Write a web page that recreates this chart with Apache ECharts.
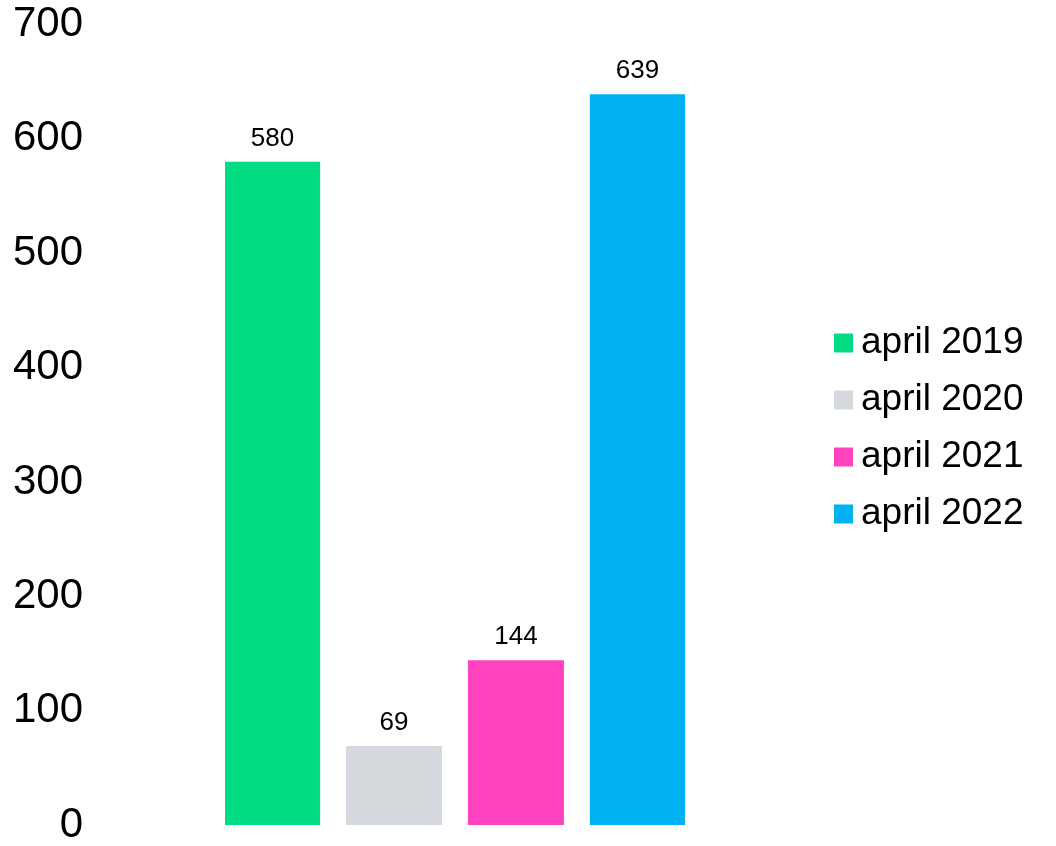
<!DOCTYPE html>
<html>
<head>
<meta charset="utf-8">
<script src="https://cdn.jsdelivr.net/npm/echarts@6/dist/echarts.min.js"></script>
<style>
html,body{margin:0;padding:0;background:#fff;}
#chart{width:1056px;height:846px;}
</style>
</head>
<body>
<div id="chart"></div>
<script>
var categories = [''];
var seriesNames = ['april 2019', 'april 2020', 'april 2021', 'april 2022'];
var seriesValues = [580, 69, 144, 639];
var seriesColors = ['#00dc82', '#d5d8dc', '#ff42bd', '#00b2f2'];
var yTicks = [0, 100, 200, 300, 400, 500, 600, 700];

var chart = echarts.init(document.getElementById('chart'));
var series = seriesNames.map(function (n, i) {
  return {
    name: n,
    type: 'bar',
    data: [seriesValues[i]],
    barWidth: 96,
    barGap: '27%',
    barCategoryGap: '0%',
    itemStyle: { color: seriesColors[i] },
    label: {
      show: true,
      position: 'top',
      distance: 10,
      color: '#000',
      fontSize: 26,
      fontFamily: 'Liberation Sans, Arial, sans-serif'
    }
  };
});
chart.setOption({
  animation: false,
  backgroundColor: '#fff',
  grid: { left: 225, width: 460, top: 24.5, bottom: 17.3 },
  legend: {
    orient: 'vertical',
    left: 829,
    top: 319,
    itemWidth: 19,
    itemHeight: 19,
    itemGap: 19,
    icon: 'rect',
    data: seriesNames,
    textStyle: {
      fontSize: 37,
      lineHeight: 38,
      color: '#000',
      fontFamily: 'Liberation Sans, Arial, sans-serif',
      padding: [0, 0, 0, 3]
    }
  },
  xAxis: {
    type: 'category',
    data: categories,
    show: false
  },
  yAxis: {
    type: 'value',
    min: yTicks[0],
    max: yTicks[yTicks.length - 1],
    interval: 100,
    splitLine: { show: false },
    axisLine: { show: false },
    axisTick: { show: false },
    axisLabel: {
      margin: 142,
      fontSize: 42,
      padding: [10, 0, 0, 0],
      color: '#000',
      fontFamily: 'Liberation Sans, Arial, sans-serif'
    }
  },
  series: series
});
</script>
</body>
</html>
